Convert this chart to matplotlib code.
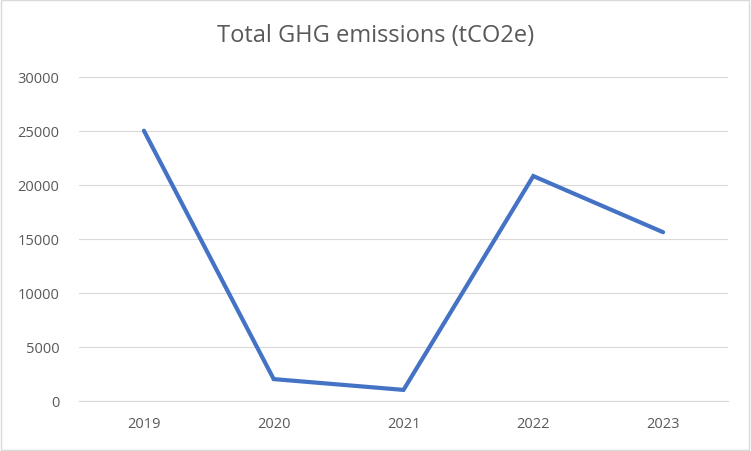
import matplotlib
matplotlib.use("Agg")
import matplotlib.pyplot as plt
from matplotlib.patches import Rectangle

years = ["2019", "2020", "2021", "2022", "2023"]
emissions = [25000, 2000, 1000, 20800, 15600]
yticks = [0, 5000, 10000, 15000, 20000, 25000, 30000]

plt.rcParams["font.family"] = ["Open Sans", "DejaVu Sans"]

fig = plt.figure(figsize=(7.51, 4.52), dpi=100)
ax = fig.add_axes([79 / 751, 1 - 401.7 / 452, (728 - 79) / 751, (401.7 - 77.7) / 452])

x = list(range(len(years)))
ax.plot(x, emissions, color="#4472C4", lw=3.0, solid_capstyle="round", solid_joinstyle="miter", zorder=3)

ax.set_xlim(-0.5, len(years) - 0.5)
ax.set_ylim(0, 30000)
ax.set_xticks(x)
ax.set_xticklabels(years)
ax.set_yticks(yticks)
ax.set_yticklabels([str(v) for v in yticks])
ax.grid(axis="y", color="#D9D9D9", lw=0.8)
ax.set_axisbelow(True)
for s in ("top", "right", "left"):
    ax.spines[s].set_visible(False)
ax.spines["bottom"].set_color("#D9D9D9")
ax.spines["bottom"].set_linewidth(0.8)
ax.tick_params(length=0, labelsize=10.5, colors="#595959")
ax.tick_params(axis="x", pad=11)
ax.tick_params(axis="y", pad=14)

fig.text(0.5, 1 - 36 / 452, "Total GHG emissions (tCO2e)", ha="center", va="center",
         fontsize=17, color="#595959")

fig.patches.append(Rectangle((0.001, 0.002), 0.997, 0.996, transform=fig.transFigure,
                             fill=False, edgecolor="#D9D9D9", lw=1.0))

fig.savefig("out.png", dpi=100)
